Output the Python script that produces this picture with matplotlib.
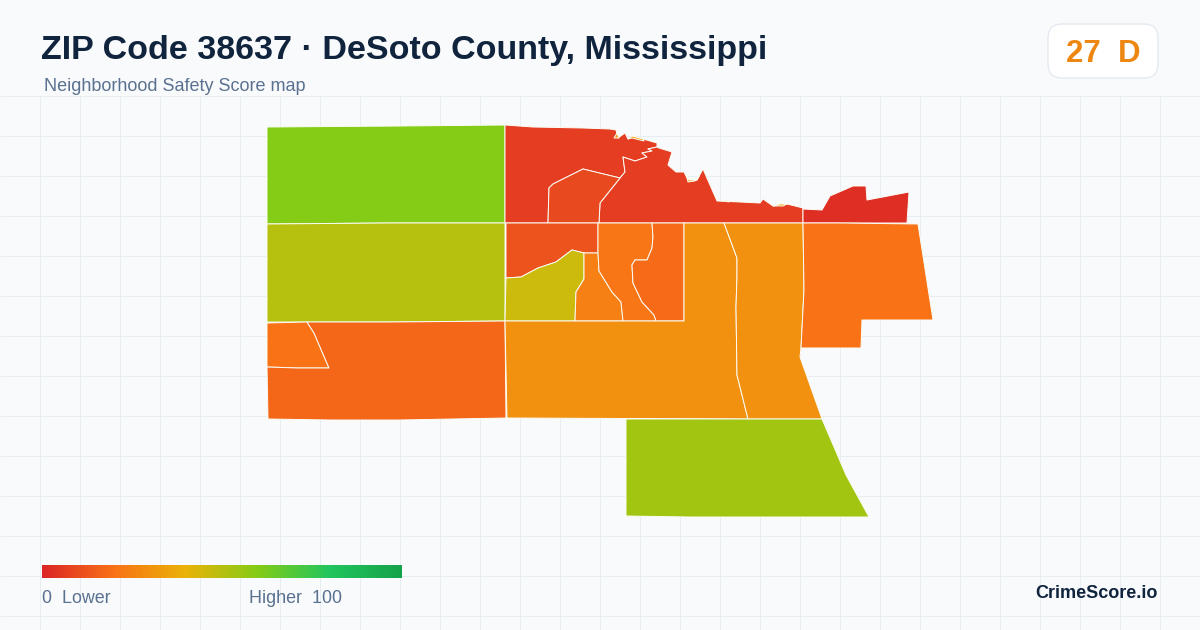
import numpy as np
import matplotlib
matplotlib.use("Agg")
import matplotlib.pyplot as plt
from matplotlib.collections import PolyCollection
from matplotlib.colors import LinearSegmentedColormap
from matplotlib.patches import FancyBboxPatch

plt.rcParams['font.family'] = ['Liberation Sans', 'DejaVu Sans']

TITLE = "ZIP Code 38637 · DeSoto County, Mississippi"
SUBTITLE = "Neighborhood Safety Score map"
SCORE = "27  D"
BRAND = "CrimeScore.io"

scale_stops = [0.0, 0.2, 0.4, 0.6, 0.8, 1.0]
scale_colors = ["#dc2626", "#f97316", "#eab308", "#84cc16", "#22c55e", "#16a34a"]

# Block-group outlines (x, y in image pixels)
nw_block = [(267,127),(400,126),(505,125),(505,223),(387,223),(267,224)]
mid_west = [(267,224),(387,223),(505,223),(505,321),(390,322),(267,322)]
sw_pocket = [(267,323),(307,322),(314,333),(329,368),(298,368),(267,367)]
sw_block = [(267,367),(298,368),(329,368),(314,333),(307,322),(390,322),(505,321),(506,418),(400,420),(330,420),(268,419)]
north_a = [(505,125),(533,127),(583,128),(610,129),(616,130),(618,138),(625,133),(628,139),(632,136),(643,139),(657,143),
           (657,147),(648,149),(652,151),(642,153),(647,157),(635,161),(623,157),(625,172),(620,178),(583,169),(553,184),
           (549,188),(548,223),(505,223)]
north_b = [(657,147),(659,148),(672,152),(668,165),(676,172),(684,172),(688,180),(697,180),(703,169),(717,201),(740,202),
           (760,203),(763,199),(773,206),(787,204),(803,208),(803,223),(599,223),(600,203),(620,178),(625,172),(623,157),
           (635,161),(647,157),(642,153),(652,151),(648,149)]
north_inner = [(548,223),(549,188),(553,184),(583,169),(620,178),(600,203),(599,223)]
north_east = [(803,209),(822,210),(830,196),(853,186),(866,186),(867,200),(909,192),(907,223),(843,223),(803,223)]
center_west = [(506,223),(598,223),(598,253),(584,253),(572,250),(556,262),(538,268),(521,277),(506,278)]
center_olive = [(506,278),(521,277),(538,268),(556,262),(572,250),(584,253),(584,279),(576,292),(575,321),(505,321)]
center_a = [(584,253),(598,253),(599,271),(612,292),(621,302),(623,321),(575,321),(576,292),(584,279)]
center_b = [(598,223),(652,223),(653,237),(652,248),(647,260),(635,260),(632,265),(633,283),(642,302),(654,315),(656,321),
            (623,321),(621,302),(612,292),(599,271),(598,253)]
center_c = [(652,223),(684,223),(684,272),(684,321),(656,321),(654,315),(642,302),(633,283),(632,265),(635,260),(647,260),
            (652,248),(653,237)]
south_mid = [(684,223),(724,223),(737,258),(737,277),(736,307),(737,375),(748,419),(507,418),(505,321),(684,321)]
east_mid = [(724,223),(803,223),(804,290),(801,348),(800,357),(822,419),(748,419),(737,375),(736,307),(737,277),(737,258)]
south_block = [(626,419),(748,419),(822,419),(846,475),(869,517),(760,517),(690,517),(626,516)]
east_block = [(803,223),(843,223),(918,224),(933,320),(862,320),(861,348),(801,348),(804,290)]
sliver_a = [(614,138),(617,133),(619,138)]
sliver_b = [(628,139),(632,136),(643,139),(644,141),(632,138)]
sliver_c = [(686,173),(689,180),(697,180),(699,176),(695,181),(688,182)]
sliver_d = [(773,206),(780,204),(787,204),(783,206)]
sliver_e = [(724,201),(727,200),(729,202)]

regions = [nw_block, mid_west, sw_pocket, sw_block, north_a, north_b, north_inner, north_east,
           center_west, center_olive, center_a, center_b, center_c, south_mid, east_mid,
           south_block, east_block, sliver_a, sliver_b, sliver_c, sliver_d, sliver_e]
region_scores = [60, 50, 20, 17, 6, 6, 9, 2,
                 12, 46, 24, 21, 18, 29, 29,
                 54, 20, 32, 36, 36, 38, 38]

fig = plt.figure(figsize=(12, 6.3), dpi=100, facecolor="#f8fafc")
ax = fig.add_axes([0, 0, 1, 1])
ax.set_xlim(0, 1200)
ax.set_ylim(630, 0)
ax.axis("off")

for x in range(40, 1200, 40):
    ax.plot([x - 0.3, x - 0.3], [96, 630], color="#e6eef2", lw=0.72, zorder=1, solid_capstyle="butt")
for y in range(96, 630, 40):
    ax.plot([0, 1200], [y - 0.3, y - 0.3], color="#e6eef2", lw=0.72, zorder=1, solid_capstyle="butt")

cmap = LinearSegmentedColormap.from_list("safety", list(zip(scale_stops, scale_colors)))
pc = PolyCollection(regions, array=np.array(region_scores, dtype=float), cmap=cmap,
                    norm=plt.Normalize(0, 100), edgecolors="#fbfdf6", linewidths=0.7, zorder=2)
ax.add_collection(pc)

ax.imshow(np.linspace(0, 1, 360).reshape(1, -1), extent=(42, 402, 578, 565), cmap=cmap,
          aspect="auto", zorder=3, interpolation="bilinear")
ax.set_xlim(0, 1200)
ax.set_ylim(630, 0)

ax.text(41, 59, TITLE, fontsize=24.5, fontweight="bold", color="#10243e", va="baseline", zorder=5)
ax.text(44, 91, SUBTITLE, fontsize=13.0, color="#5a7190", va="baseline", zorder=5)
ax.text(42, 603, "0  Lower", fontsize=12.9, color="#5a7190", va="baseline", zorder=5)
ax.text(249, 603, "Higher  100", fontsize=12.9, color="#5a7190", va="baseline", zorder=5)
ax.text(1158, 598, BRAND, fontsize=13.0, fontweight="bold", color="#10243e", ha="right", va="baseline", zorder=5)

badge = FancyBboxPatch((1062, 38), 82, 26, boxstyle="round,pad=14,rounding_size=14",
                       facecolor="#ffffff", edgecolor="#e2e8f0", lw=0.9, zorder=4)
ax.add_patch(badge)
ax.text(1103, 62, SCORE, fontsize=22.5, fontweight="bold", color="#ee8712", ha="center", va="baseline", zorder=5)

fig.savefig("out.png", dpi=100, facecolor=fig.get_facecolor())
